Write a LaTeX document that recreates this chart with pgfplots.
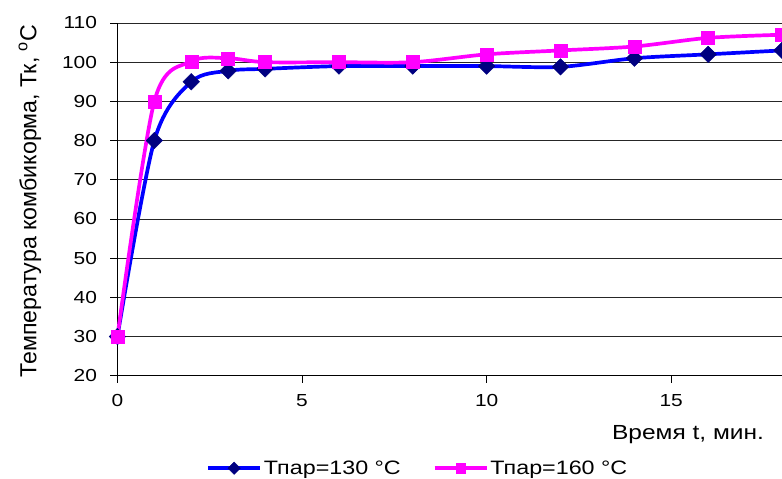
\documentclass[border=0pt]{standalone}
\usepackage{fontspec}
\setmainfont{Liberation Sans}[FakeStretch=1.2]
\newfontfamily\ylabfont{Liberation Sans}
\usepackage{pgfplots}
\pgfplotsset{compat=1.18}

\definecolor{lineA}{RGB}{0,0,255}
\definecolor{markA}{RGB}{0,0,128}
\definecolor{lineB}{RGB}{255,0,255}

% Steam at 130 °C
\pgfplotstableread{
t T
0 30
1 80
2 95
3 97.8
4 98.3
6 99
8 99
10 99
12 98.8
14 101
16 102
18 103
}\tableA

% Steam at 160 °C
\pgfplotstableread{
t T
0 30
1 90
2 100.2
3 101
4 100
6 100
8 100
10 102
12 103
14 104
16 106.2
18 107
}\tableB

\begin{document}
\begin{tikzpicture}
\useasboundingbox (-117.5bp,-103bp) rectangle (665bp,376bp);
\begin{axis}[
  at={(0,0)}, anchor=south west,
  scale only axis, width=665bp, height=353bp,
  xmin=0, xmax=18, ymin=20, ymax=110,
  clip=false,
  axis x line*=bottom, axis y line*=left,
  xtick={0,5,10,15}, ytick={20,30,...,110},
  ymajorgrids,
  grid style={black!85, line width=0.9bp},
  axis line style={black, line width=0.9bp},
  tick align=outside, major tick length=7bp,
  tick style={black, line width=0.9bp},
  /pgf/number format/assume math mode=true,
  ticklabel style={font=\fontsize{17.5}{20}\selectfont},
  yticklabel style={xshift=-10bp},
  xticklabel style={yshift=-8bp},
  xlabel={Время t, мин.},
  xlabel style={at={(axis description cs:0.978,-0.168)}, anchor=east,
    font=\fontsize{20.5}{24}\selectfont},
  ylabel={\ylabfont\fontsize{23.3}{27}\selectfont Температура комбикорма, Тк, \textsuperscript{o}С},
  ylabel style={at={(axis description cs:-0.1316,0.495)}, anchor=center},
  legend columns=2,
  legend style={at={(axis description cs:0.452,-0.262)}, anchor=center,
    draw=none, fill=none, font=\fontsize{19.5}{23}\selectfont,
    /tikz/every even column/.append style={column sep=30bp}},
  legend image code/.code={
    \draw[#1, mark repeat=2, mark phase=2, every mark/.append style={scale=0.75}]
      plot coordinates {(0bp,0bp) (26bp,0bp) (52bp,0bp)};},
]
\addplot[lineA, line width=3.7bp, smooth, mark=square*, mark size=5.8bp,
  mark options={rotate=45, fill=markA, draw=markA, line width=0.5bp}]
  table {\tableA};
\addlegendentry{Тпар=130 °C}
\addplot[lineB, line width=3.7bp, smooth, mark=square*, mark size=6.5bp,
  mark options={fill=lineB, draw=lineB, line width=0.5bp}]
  table {\tableB};
\addlegendentry{Тпар=160 °C}
\end{axis}
\end{tikzpicture}
\end{document}
